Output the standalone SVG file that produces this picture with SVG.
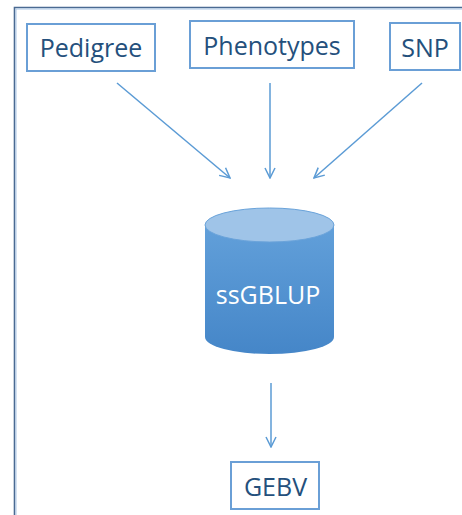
<svg xmlns="http://www.w3.org/2000/svg" width="462" height="515" viewBox="0 0 462 515">
<defs>
<style>
.box{fill:#fff;stroke:#6a9fd6;stroke-width:2}
.lbl{font-family:"Open Sans","Liberation Sans",sans-serif;font-size:25px;fill:#24507c;text-anchor:middle}
.conn{stroke:#5b9bd5;stroke-width:1.5;fill:none;marker-end:url(#arr)}
</style>
<marker id="arr" viewBox="0 0 12 12" refX="11" refY="6" markerWidth="12" markerHeight="12" markerUnits="userSpaceOnUse" orient="auto">
<path d="M1,1 L11,6 L1,11" fill="none" stroke="#5b9bd5" stroke-width="1.5"/>
</marker>
<linearGradient id="cyl" x1="0" y1="0" x2="0" y2="1">
<stop offset="0" stop-color="#62a0da"/>
<stop offset="1" stop-color="#4586c8"/>
</linearGradient>
</defs>
<rect width="462" height="515" fill="#fff"/>
<g id="frame">
<path d="M14.5,515 V7.5 H462" fill="none" stroke="#4a6a92" stroke-width="1.6"/>
<path d="M16,515 V9 H462" fill="none" stroke="#a9c6e6" stroke-width="1"/>
</g>
<g id="connectors">
<line class="conn" x1="117" y1="83" x2="230" y2="178"/>
<line class="conn" x1="270" y1="83" x2="270" y2="178"/>
<line class="conn" x1="422" y1="83" x2="314" y2="178"/>
<line class="conn" x1="271" y1="383" x2="271" y2="447"/>
</g>
<g id="pedigree">
<rect class="box" x="27" y="24" width="128" height="47"/>
<text class="lbl" x="91" y="56.5">Pedigree</text>
</g>
<g id="phenotypes">
<rect class="box" x="190" y="21" width="164" height="47"/>
<text class="lbl" x="272" y="54.5">Phenotypes</text>
</g>
<g id="snp">
<rect class="box" x="390" y="23" width="70" height="47"/>
<text class="lbl" x="425" y="56.5">SNP</text>
</g>
<g id="ssgblup">
<path d="M205,225 V337 A64.5,17 0 0 0 334,337 V225 Z" fill="url(#cyl)"/>
<ellipse cx="269.5" cy="225" rx="64.5" ry="17" fill="#9fc4e8" stroke="#6aa3da" stroke-width="1"/>
<text x="268" y="303.5" font-family="'Open Sans','Liberation Sans',sans-serif" font-size="25" fill="#fff" text-anchor="middle">ssGBLUP</text>
</g>
<g id="gebv">
<rect class="box" x="231" y="462" width="88" height="47"/>
<text class="lbl" x="275.5" y="495.5">GEBV</text>
</g>
</svg>
